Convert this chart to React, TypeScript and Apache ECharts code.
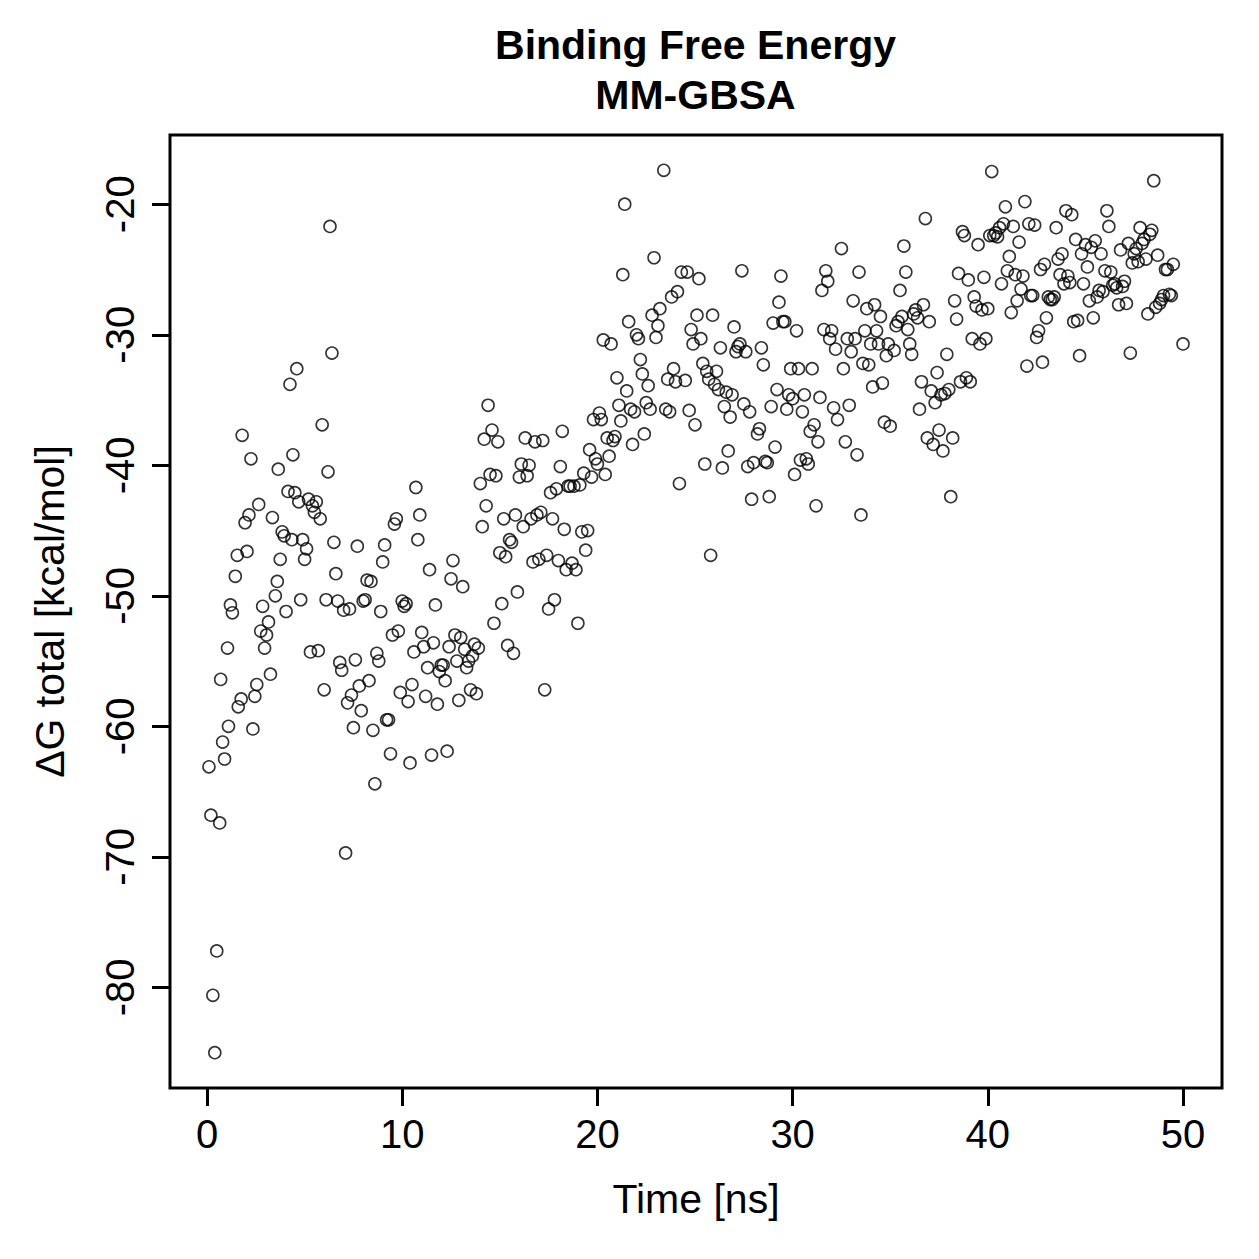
import React, { useEffect, useRef } from "react";
import * as echarts from "echarts";

// [time (ns), ΔG total (kcal/mol)], split by decade
const points0to10: number[][] = [
  [0.1,-63.1],[0.2,-66.8],[0.3,-80.6],[0.4,-85.0],[0.5,-77.2],[0.65,-67.4],[0.7,-56.4],[0.8,-61.2],[0.9,-62.5],[1.05,-54.0],
  [1.1,-60.0],[1.2,-50.7],[1.3,-51.3],[1.45,-48.5],[1.55,-46.9],[1.6,-58.5],[1.75,-57.9],[1.8,-37.7],[1.95,-44.4],[2.05,-46.6],
  [2.15,-43.8],[2.25,-39.5],[2.35,-60.2],[2.45,-57.7],[2.55,-56.8],[2.65,-43.0],[2.75,-52.7],[2.85,-50.8],[2.95,-54.0],[3.05,-53.0],
  [3.15,-52.0],[3.25,-56.0],[3.35,-44.0],[3.5,-50.0],[3.6,-48.9],[3.65,-40.3],[3.75,-47.2],[3.85,-45.1],[3.95,-45.4],[4.05,-51.2],
  [4.15,-42.0],[4.25,-33.8],[4.35,-45.7],[4.4,-39.2],[4.5,-42.1],[4.6,-32.6],[4.7,-42.8],[4.8,-50.3],[4.9,-45.7],[5.0,-47.2],
  [5.1,-46.4],[5.2,-42.6],[5.3,-54.3],[5.4,-43.1],[5.5,-43.6],[5.6,-42.8],[5.7,-54.2],[5.8,-44.1],[5.9,-36.9],[6.0,-57.2],
  [6.1,-50.3],[6.2,-40.5],[6.3,-21.7],[6.4,-31.4],[6.5,-45.9],[6.6,-48.3],[6.7,-50.4],[6.8,-55.1],[6.9,-55.7],[7.0,-51.1],
  [7.1,-69.7],[7.2,-58.2],[7.3,-51.0],[7.4,-57.6],[7.5,-60.1],[7.6,-54.9],[7.7,-46.2],[7.8,-56.9],[7.9,-58.8],[8.0,-50.4],
  [8.1,-50.3],[8.2,-48.8],[8.3,-56.5],[8.4,-48.9],[8.5,-60.3],[8.6,-64.4],[8.7,-54.4],[8.8,-55.0],[8.9,-51.2],[9.0,-47.4],
  [9.1,-46.1],[9.2,-59.5],[9.3,-59.5],[9.4,-62.1],[9.5,-53.0],[9.6,-44.5],[9.7,-44.1],[9.8,-52.7],[9.9,-57.4],[10.0,-50.4],
];

const points10to20: number[][] = [
  [10.1,-50.8],[10.2,-50.6],[10.3,-58.1],[10.4,-62.8],[10.5,-56.8],[10.6,-54.3],[10.7,-41.7],[10.8,-45.7],[10.9,-43.8],[11.0,-52.8],
  [11.1,-53.9],[11.2,-57.7],[11.3,-55.5],[11.4,-48.0],[11.5,-62.2],[11.6,-53.6],[11.7,-50.7],[11.8,-58.3],[11.9,-55.8],[12.0,-55.3],
  [12.1,-55.3],[12.2,-56.5],[12.3,-61.9],[12.4,-53.9],[12.5,-48.7],[12.6,-47.3],[12.7,-53.0],[12.8,-55.0],[12.9,-58.0],[13.0,-53.2],
  [13.1,-49.3],[13.2,-54.1],[13.3,-55.5],[13.4,-55.0],[13.5,-57.2],[13.6,-54.6],[13.7,-53.7],[13.8,-57.5],[13.9,-54.0],[14.0,-41.4],
  [14.1,-44.7],[14.2,-38.0],[14.3,-43.1],[14.4,-35.4],[14.5,-40.7],[14.6,-37.3],[14.7,-52.1],[14.8,-40.8],[14.9,-38.2],[15.0,-46.7],
  [15.1,-50.6],[15.2,-44.1],[15.3,-47.0],[15.4,-53.8],[15.5,-45.7],[15.6,-45.9],[15.7,-54.4],[15.8,-43.8],[15.9,-49.7],[16.0,-40.9],
  [16.1,-39.9],[16.2,-44.7],[16.3,-37.9],[16.4,-40.8],[16.5,-40.0],[16.6,-44.1],[16.7,-47.4],[16.8,-38.2],[16.9,-43.8],[17.0,-47.2],
  [17.1,-43.6],[17.2,-38.1],[17.3,-57.2],[17.4,-46.9],[17.5,-51.0],[17.6,-42.1],[17.7,-44.1],[17.8,-50.3],[17.9,-41.8],[18.0,-47.3],
  [18.1,-40.1],[18.2,-37.4],[18.3,-44.9],[18.4,-48.0],[18.5,-41.6],[18.6,-41.6],[18.7,-47.5],[18.8,-41.6],[18.9,-48.0],[19.0,-52.1],
  [19.1,-41.5],[19.2,-45.1],[19.3,-40.6],[19.4,-46.5],[19.5,-45.0],[19.6,-38.8],[19.7,-40.9],[19.8,-36.5],[19.9,-39.5],[20.0,-39.9],
];

const points20to30: number[][] = [
  [20.1,-36.0],[20.2,-36.5],[20.3,-30.4],[20.4,-40.7],[20.5,-37.9],[20.6,-39.3],[20.7,-30.7],[20.8,-38.1],[20.9,-37.8],[21.0,-33.3],
  [21.1,-35.4],[21.2,-36.6],[21.3,-25.4],[21.4,-20.0],[21.5,-34.3],[21.6,-29.0],[21.7,-35.7],[21.8,-38.4],[21.9,-35.9],[22.0,-30.0],
  [22.1,-30.3],[22.2,-31.9],[22.3,-33.0],[22.4,-37.6],[22.5,-35.2],[22.6,-33.9],[22.7,-35.7],[22.8,-28.5],[22.9,-24.1],[23.0,-30.2],
  [23.1,-29.3],[23.2,-28.0],[23.4,-17.4],[23.5,-35.7],[23.6,-33.4],[23.7,-35.9],[23.8,-27.1],[23.9,-32.6],[24.0,-33.6],[24.1,-26.7],
  [24.2,-41.4],[24.3,-25.2],[24.5,-33.5],[24.6,-25.2],[24.7,-35.8],[24.8,-29.6],[24.9,-30.7],[25.0,-36.9],[25.1,-28.5],[25.2,-25.7],
  [25.3,-30.3],[25.4,-32.2],[25.5,-39.9],[25.6,-32.8],[25.7,-33.4],[25.8,-46.9],[25.9,-28.5],[26.0,-33.8],[26.1,-32.8],[26.2,-34.2],
  [26.3,-31.0],[26.4,-40.2],[26.5,-35.5],[26.6,-34.4],[26.7,-38.9],[26.8,-36.3],[26.9,-34.6],[27.0,-29.4],[27.1,-31.3],[27.2,-30.9],
  [27.3,-30.7],[27.4,-25.1],[27.5,-35.3],[27.6,-31.3],[27.7,-40.1],[27.8,-35.9],[27.9,-42.6],[28.0,-39.8],[28.2,-37.6],[28.3,-37.2],
  [28.4,-31.0],[28.5,-32.3],[28.6,-39.7],[28.7,-39.8],[28.8,-42.4],[28.9,-35.5],[29.0,-29.1],[29.1,-38.6],[29.2,-34.2],[29.3,-27.5],
  [29.4,-25.5],[29.5,-29.0],[29.6,-29.0],[29.7,-35.7],[29.8,-34.6],[29.9,-32.6],[30.0,-34.9],
];

const points30to40: number[][] = [
  [30.1,-40.7],[30.2,-29.7],[30.3,-32.6],[30.4,-39.6],[30.5,-35.9],[30.6,-34.6],[30.7,-39.5],[30.8,-39.9],[30.9,-37.4],[31.0,-32.6],
  [31.1,-36.9],[31.2,-43.1],[31.3,-38.2],[31.4,-34.8],[31.5,-26.6],[31.6,-29.6],[31.7,-25.1],[31.8,-25.9],[31.9,-30.3],[32.0,-29.7],
  [32.1,-35.6],[32.2,-31.1],[32.3,-36.5],[32.5,-23.4],[32.6,-32.6],[32.7,-38.2],[32.8,-30.3],[32.9,-35.4],[33.0,-31.3],[33.1,-27.4],
  [33.2,-30.3],[33.3,-39.2],[33.4,-25.2],[33.5,-43.8],[33.6,-32.2],[33.7,-29.7],[33.8,-28.0],[33.9,-32.3],[34.0,-30.7],[34.1,-34.0],
  [34.2,-27.7],[34.3,-29.7],[34.4,-30.7],[34.5,-28.6],[34.6,-33.7],[34.7,-36.7],[34.8,-31.6],[34.9,-30.7],[35.0,-37.0],[35.2,-31.2],
  [35.3,-29.3],[35.4,-29.0],[35.5,-26.6],[35.6,-28.6],[35.7,-23.2],[35.8,-25.2],[35.9,-29.6],[36.0,-30.7],[36.1,-31.5],[36.2,-28.4],
  [36.3,-28.1],[36.4,-28.7],[36.5,-35.7],[36.6,-33.6],[36.7,-27.7],[36.8,-21.1],[36.9,-37.9],[37.0,-29.0],[37.1,-34.3],[37.2,-38.4],
  [37.3,-35.2],[37.4,-32.9],[37.5,-37.3],[37.6,-34.6],[37.7,-38.9],[37.8,-34.5],[37.9,-31.5],[38.0,-34.2],[38.1,-42.4],[38.2,-37.9],
  [38.3,-27.4],[38.4,-28.8],[38.5,-25.3],[38.6,-33.6],[38.7,-22.1],[38.8,-22.4],[38.9,-33.3],[39.0,-25.8],[39.1,-33.6],[39.2,-30.3],
  [39.3,-27.1],[39.4,-27.8],[39.5,-23.1],[39.6,-30.7],[39.7,-28.1],[39.8,-25.6],[39.9,-30.3],[40.0,-28.0],
];

const points40to50: number[][] = [
  [40.1,-22.4],[40.2,-17.5],[40.3,-22.4],[40.4,-22.2],[40.5,-22.5],[40.6,-21.8],[40.7,-26.1],[40.8,-21.5],[40.9,-20.2],[41.0,-25.1],
  [41.1,-24.0],[41.2,-28.3],[41.3,-21.7],[41.4,-25.4],[41.5,-27.4],[41.6,-22.9],[41.7,-26.5],[41.8,-25.5],[41.9,-19.8],[42.0,-32.4],
  [42.1,-21.5],[42.2,-27.0],[42.3,-27.0],[42.4,-21.6],[42.5,-30.2],[42.6,-29.7],[42.7,-25.0],[42.8,-32.1],[42.9,-24.6],[43.0,-28.7],
  [43.1,-27.1],[43.2,-27.3],[43.3,-27.3],[43.4,-27.1],[43.5,-21.8],[43.6,-24.2],[43.7,-25.4],[43.8,-23.8],[43.9,-26.1],[44.0,-20.5],
  [44.1,-25.5],[44.2,-26.0],[44.3,-20.8],[44.4,-29.0],[44.5,-22.7],[44.6,-28.9],[44.7,-31.6],[44.8,-23.8],[44.9,-26.1],[45.0,-23.1],
  [45.1,-24.8],[45.2,-27.4],[45.3,-23.3],[45.4,-28.7],[45.5,-22.8],[45.6,-27.1],[45.7,-26.6],[45.8,-23.8],[45.9,-26.7],[46.0,-25.1],
  [46.1,-20.5],[46.2,-21.7],[46.3,-25.2],[46.4,-26.2],[46.5,-26.1],[46.6,-26.4],[46.7,-27.7],[46.8,-23.5],[46.9,-26.3],[47.0,-25.9],
  [47.1,-27.6],[47.2,-23.0],[47.3,-31.4],[47.4,-24.5],[47.5,-23.8],[47.6,-23.4],[47.7,-24.4],[47.8,-21.8],[47.9,-23.0],[48.0,-22.7],
  [48.1,-24.2],[48.2,-28.4],[48.3,-22.3],[48.4,-22.0],[48.5,-18.2],[48.6,-27.9],[48.7,-23.9],[48.8,-27.6],[48.9,-27.3],[49.0,-27.0],
  [49.1,-25.0],[49.2,-25.0],[49.3,-26.9],[49.4,-27.0],[49.5,-24.6],[50.0,-30.7],
];

const xTicks = [0, 10, 20, 30, 40, 50];
const yTicks = [-80, -70, -60, -50, -40, -30, -20];
const titleText = "Binding Free Energy\nMM-GBSA";
const xName = "Time [ns]";
const yName = "ΔG total [kcal/mol]";

const FONT = "'Liberation Sans', Arial, Helvetica, sans-serif";

export default function App() {
  const ref = useRef<HTMLDivElement>(null);
  useEffect(() => {
    if (!ref.current) return;
    const chart = echarts.init(ref.current, undefined, { renderer: "svg" });
    const all = [...points0to10, ...points10to20, ...points20to30, ...points30to40, ...points40to50];
    const xs = all.map((p) => p[0]);
    const ys = all.map((p) => p[1]);
    // R-style 4% axis extension
    const xMin = Math.min(...xs), xMax = Math.max(...xs);
    const yMin = Math.min(...ys), yMax = Math.max(...ys);
    const xPad = (xMax - xMin) * 0.04, yPad = (yMax - yMin) * 0.04;

    chart.setOption({
      animation: false,
      backgroundColor: "#ffffff",
      textStyle: { fontFamily: FONT },
      title: {
        text: titleText,
        left: 695.5,
        top: 20,
        textAlign: "center",
        padding: 0,
        textStyle: { fontFamily: FONT, fontSize: 41, fontWeight: "bold", color: "#000", lineHeight: 50 },
      },
      grid: {
        left: 170,
        top: 135,
        width: 1052,
        height: 953,
        show: true,
        borderColor: "#000",
        borderWidth: 3,
        backgroundColor: "transparent",
      },
      xAxis: {
        type: "value",
        min: xMin - xPad,
        max: xMax + xPad,
        name: xName,
        nameLocation: "middle",
        nameGap: 90,
        nameTextStyle: { fontFamily: FONT, fontSize: 41, color: "#000" },
        axisLine: { show: false, onZero: false },
        splitLine: { show: false },
        axisTick: { show: true, length: 18, inside: false, customValues: xTicks, lineStyle: { color: "#000", width: 3 } },
        axisLabel: { show: true, customValues: xTicks, margin: 26, fontSize: 40, color: "#000", fontFamily: FONT },
      },
      yAxis: {
        type: "value",
        min: yMin - yPad,
        max: yMax + yPad,
        name: yName,
        nameLocation: "middle",
        nameGap: 100,
        nameRotate: 90,
        nameTextStyle: { fontFamily: FONT, fontSize: 41, color: "#000" },
        axisLine: { show: false, onZero: false },
        splitLine: { show: false },
        axisTick: { show: true, length: 18, inside: false, customValues: yTicks, lineStyle: { color: "#000", width: 3 } },
        axisLabel: { show: true, customValues: yTicks, rotate: 90, margin: 30, fontSize: 40, color: "#000", fontFamily: FONT },
      },
      series: [
        {
          type: "scatter",
          data: all,
          symbol: "circle",
          symbolSize: 12,
          itemStyle: { color: "rgba(0,0,0,0)", borderColor: "#000", borderWidth: 1.6 },
          emphasis: { disabled: true },
        },
      ],
    });
    return () => chart.dispose();
  }, []);
  return (
    <div
      ref={ref}
      style={{ position: "absolute", left: 0, top: 0, width: 1259, height: 1259, background: "#fff" }}
    />
  );
}
